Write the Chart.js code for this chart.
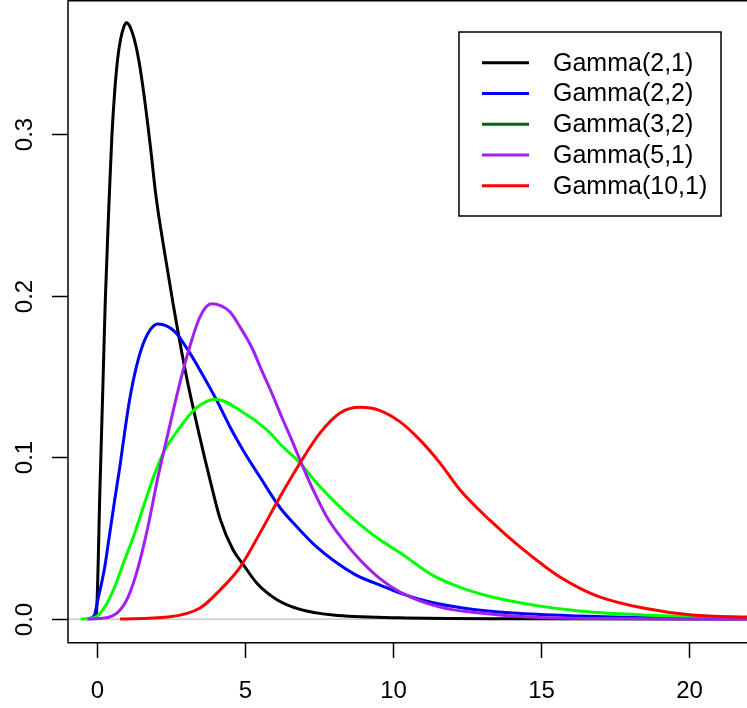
<!DOCTYPE html>
<html>
<head>
<meta charset="utf-8">
<script src="https://cdn.jsdelivr.net/npm/chart.js@4"></script>
<style>
  html, body { margin: 0; padding: 0; background: #fff; }
  canvas { display: block; }
</style>
</head>
<body>
<canvas id="grafico" width="747" height="708"></canvas>
<script>
// series labels and colours (legend green is darkgreen, curve is bright green)
const etiquetas = ["Gamma(2,1)", "Gamma(2,2)", "Gamma(3,2)", "Gamma(5,1)", "Gamma(10,1)"];
const coloresLinea = ["#000000", "#0000FF", "#00FF00", "#A020F0", "#FF0000"];
const coloresLeyenda = ["#000000", "#0000FF", "#006400", "#A020F0", "#FF0000"];

// tick values
const ticksX = [0, 5, 10, 15, 20];
const ticksY = [0.0, 0.1, 0.2, 0.3];
const etiquetasY = ["0.0", "0.1", "0.2", "0.3"];

// curves
const g21X = [-0.25, -0.1, -0.02, 0.1, 0.2, 0.28, 0.4, 0.5, 0.6, 0.7, 0.8, 0.9, 0.99, 1.1, 1.27, 1.42, 1.59, 1.8, 1.99, 2.3, 2.57, 3.0, 3.48, 3.82, 4.16, 4.59, 4.93, 5.41, 6.08, 6.86, 7.97, 10.2, 14, 22.5];
const g21Y = [0, 0.001, 0.004, 0.081, 0.145, 0.197, 0.255, 0.298, 0.327, 0.347, 0.359, 0.366, 0.369, 0.367, 0.358, 0.345, 0.324, 0.293, 0.262, 0.225, 0.195, 0.152, 0.112, 0.086, 0.062, 0.043, 0.034, 0.022, 0.012, 0.006, 0.0025, 0.0008, 0.0002, 0];

const g22X = [-0.35, -0.1, 0.03, 0.26, 0.43, 0.6, 0.77, 0.93, 1.10, 1.33, 1.61, 2.06, 2.62, 3.07, 3.48, 4.04, 4.49, 4.93, 5.5, 6.18, 6.86, 7.42, 7.97, 8.77, 9.56, 10.24, 11.25, 12.36, 14.05, 16.3, 19, 22.5];
const g22Y = [0, 0.002, 0.012, 0.032, 0.053, 0.074, 0.094, 0.115, 0.1355, 0.156, 0.1726, 0.1825, 0.178, 0.1665, 0.154, 0.1355, 0.119, 0.1046, 0.088, 0.069, 0.055, 0.0446, 0.0365, 0.027, 0.021, 0.016, 0.0105, 0.0068, 0.0037, 0.0019, 0.0008, 0.0002];

const g32X = [-0.55, -0.08, 0.26, 0.6, 0.93, 1.27, 1.61, 1.95, 2.29, 2.74, 3.18, 3.48, 3.99, 4.93, 5.74, 6.28, 6.86, 7.43, 8.31, 9.12, 9.56, 10.24, 11.35, 12.36, 13.5, 14.97, 16.3, 18.45, 20.4, 22.5];
const g32Y = [0, 0.001, 0.0074, 0.02, 0.0365, 0.053, 0.0718, 0.090, 0.1046, 0.117, 0.1275, 0.1324, 0.136, 0.128, 0.117, 0.1066, 0.0965, 0.084, 0.0675, 0.055, 0.049, 0.041, 0.027, 0.019, 0.013, 0.008, 0.005, 0.0025, 0.0012, 0.0005];

const g51X = [-0.3, 0.26, 0.71, 1.05, 1.39, 1.72, 2.06, 2.4, 2.74, 3.07, 3.48, 3.87, 4.49, 4.83, 5.23, 5.56, 5.9, 6.24, 6.62, 6.96, 7.3, 7.77, 8.31, 8.89, 9.56, 10.24, 11.59, 12.94, 14.6, 17, 22.5];
const g51Y = [0, 0.0006, 0.0043, 0.0136, 0.032, 0.057, 0.088, 0.115, 0.1417, 0.1646, 0.187, 0.195, 0.19, 0.1807, 0.168, 0.154, 0.14, 0.125, 0.109, 0.094, 0.08, 0.063, 0.049, 0.0365, 0.025, 0.0167, 0.0074, 0.0037, 0.0012, 0.0003, 0];

const g101X = [0.78, 2.4, 3.48, 4.16, 4.83, 5.5, 6.18, 6.86, 7.53, 8.21, 8.89, 9.56, 10.24, 10.9, 11.59, 12.26, 13.28, 14.29, 15.2, 15.64, 16.32, 17.0, 18.45, 20.1, 21.96, 22.5];
const g101Y = [0, 0.0012, 0.0068, 0.018, 0.032, 0.053, 0.0755, 0.0965, 0.115, 0.1275, 0.131, 0.129, 0.122, 0.111, 0.0965, 0.08, 0.061, 0.0446, 0.0316, 0.026, 0.019, 0.0136, 0.0068, 0.0025, 0.0012, 0.001];

const seriesX = [g21X, g22X, g32X, g51X, g101X];
const seriesY = [g21Y, g22Y, g32Y, g51Y, g101Y];

const fuente = '"Liberation Sans", Arial, Helvetica, sans-serif';

const datasets = etiquetas.map((lab, i) => ({
  label: lab,
  data: seriesX[i].map((x, j) => ({ x, y: seriesY[i][j] })),
  borderColor: coloresLinea[i],
  borderWidth: 3,
  pointRadius: 0,
  fill: false,
  cubicInterpolationMode: 'monotone',
  order: etiquetas.length - i
}));

// R-style axes, box, zero line and legend
const estiloR = {
  id: 'estiloR',
  beforeDraw(chart) {
    const ctx = chart.ctx;
    ctx.save();
    ctx.fillStyle = '#fff';
    ctx.fillRect(0, 0, chart.width, chart.height);
    ctx.restore();
  },
  beforeDatasetsDraw(chart) {
    const ctx = chart.ctx;
    const { left, right } = chart.chartArea;
    const y0 = chart.scales.y.getPixelForValue(0);
    ctx.save();
    ctx.strokeStyle = '#bebebe';
    ctx.lineWidth = 1.2;
    ctx.beginPath();
    ctx.moveTo(left, y0);
    ctx.lineTo(right, y0);
    ctx.stroke();
    ctx.restore();
  },
  afterDraw(chart) {
    const ctx = chart.ctx;
    const { left, right, top, bottom } = chart.chartArea;
    const sx = chart.scales.x, sy = chart.scales.y;
    ctx.save();
    ctx.strokeStyle = '#000';
    ctx.lineWidth = 1.5;
    ctx.strokeRect(left, top + 0.75, right - left + 10, bottom - top);

    // x axis
    ctx.fillStyle = '#000';
    ctx.font = '24px ' + fuente;
    ctx.textAlign = 'center';
    ctx.textBaseline = 'alphabetic';
    ticksX.forEach(t => {
      const px = Math.round(sx.getPixelForValue(t)) + 0.5;
      ctx.beginPath();
      ctx.moveTo(px, bottom);
      ctx.lineTo(px, bottom + 16);
      ctx.stroke();
      ctx.fillText(String(t), px, 698);
    });

    // y axis
    ticksY.forEach((t, i) => {
      const py = Math.round(sy.getPixelForValue(t)) + 0.5;
      ctx.beginPath();
      ctx.moveTo(left - 16, py);
      ctx.lineTo(left, py);
      ctx.stroke();
      ctx.save();
      ctx.translate(32, py);
      ctx.rotate(-Math.PI / 2);
      ctx.fillText(etiquetasY[i], 0, 0);
      ctx.restore();
    });

    // legend
    const lx = 459, ly = 32, lw = 262, lh = 184;
    ctx.fillStyle = '#fff';
    ctx.fillRect(lx, ly, lw, lh);
    ctx.lineWidth = 1.5;
    ctx.strokeRect(lx, ly, lw, lh);
    ctx.font = '25px ' + fuente;
    ctx.textAlign = 'left';
    ctx.textBaseline = 'middle';
    etiquetas.forEach((lab, i) => {
      const ry = 62.7 + i * 30.75;
      ctx.strokeStyle = coloresLeyenda[i];
      ctx.lineWidth = 3;
      ctx.beginPath();
      ctx.moveTo(482, ry);
      ctx.lineTo(529, ry);
      ctx.stroke();
      ctx.fillStyle = '#000';
      ctx.fillText(lab, 553, ry + 1);
    });
    ctx.restore();
  }
};

new Chart(document.getElementById('grafico').getContext('2d'), {
  type: 'line',
  data: { datasets },
  options: {
    responsive: false,
    animation: false,
    layout: { padding: { left: 68, top: 0, right: 0, bottom: 66 } },
    plugins: { legend: { display: false }, tooltip: { enabled: false } },
    scales: {
      x: { type: 'linear', min: -0.98, max: 21.96, display: false },
      y: { type: 'linear', min: -0.0142, max: 0.383, display: false }
    }
  },
  plugins: [estiloR]
});
</script>
</body>
</html>
